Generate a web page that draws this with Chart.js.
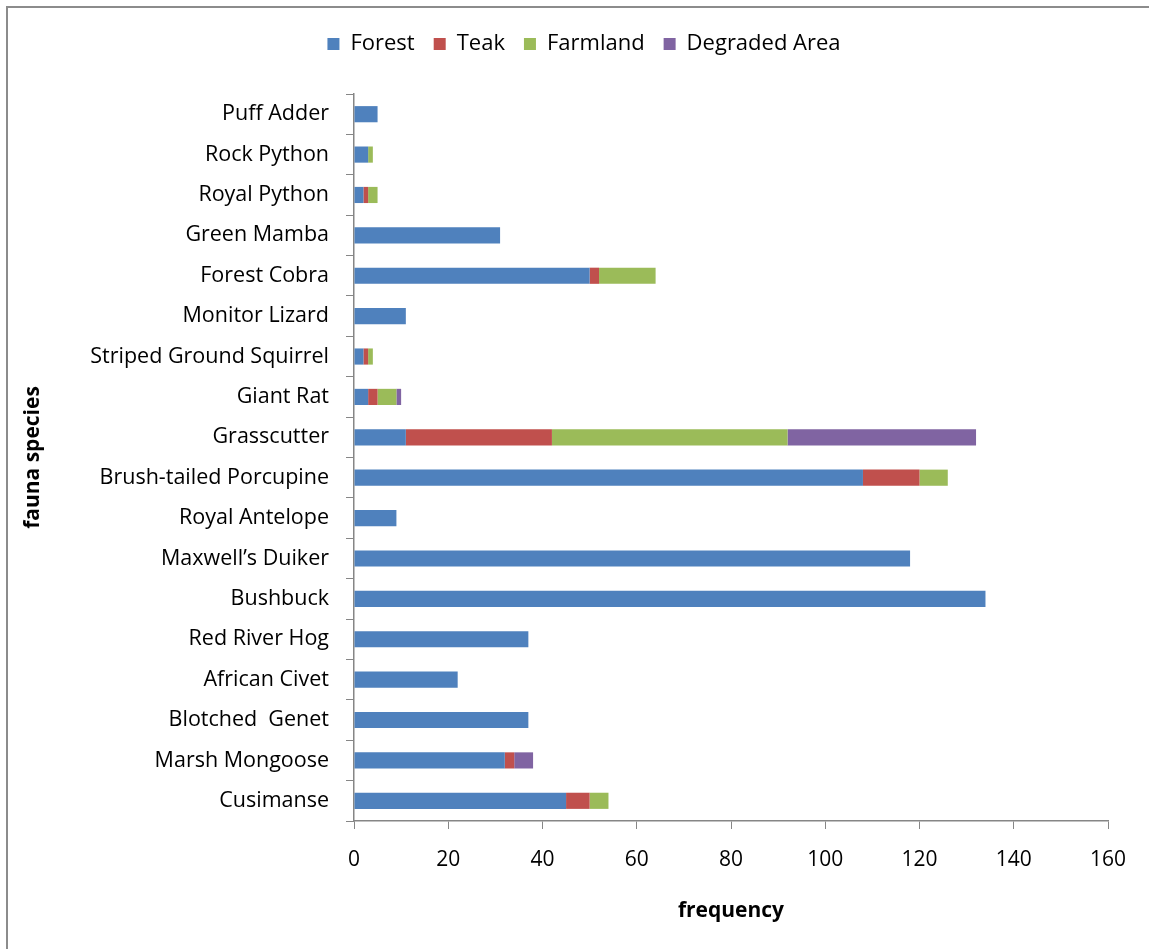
<!DOCTYPE html>
<html>
<head>
<meta charset="utf-8">
<script src="https://cdn.jsdelivr.net/npm/chart.js@4.4.1/dist/chart.umd.min.js"></script>
<style>
  body { margin: 0; background: #fff; }
  #wrap { position: relative; width: 1149px; height: 949px; }
</style>
</head>
<body>
<div id="wrap"><canvas id="chart" width="1149" height="949"></canvas></div>
<script>
  // species, top to bottom
  const species = [
    'Puff Adder', 'Rock Python', 'Royal Python', 'Green Mamba', 'Forest Cobra',
    'Monitor Lizard', 'Striped Ground Squirrel', 'Giant Rat', 'Grasscutter',
    'Brush-tailed Porcupine', 'Royal Antelope', 'Maxwell\u2019s Duiker', 'Bushbuck',
    'Red River Hog', 'African Civet', 'Blotched  Genet', 'Marsh Mongoose', 'Cusimanse'
  ]
  const forest = [5, 3, 2, 31, 50, 11, 2, 3, 11, 108, 9, 118, 134, 37, 22, 37, 32, 45]
  const teak = [0, 0, 1, 0, 2, 0, 1, 2, 31, 12, 0, 0, 0, 0, 0, 0, 2, 5]
  const farmland = [0, 1, 2, 0, 12, 0, 1, 4, 50, 6, 0, 0, 0, 0, 0, 0, 0, 4]
  const degraded = [0, 0, 0, 0, 0, 0, 0, 1, 40, 0, 0, 0, 0, 0, 0, 0, 4, 0]
  const xTicks = [0, 20, 40, 60, 80, 100, 120, 140, 160]

  const font = '"Open Sans", Lato, sans-serif'
  const axisGrey = '#868686'

  // outer frame like the exported figure
  const framePlugin = {
    id: 'frame',
    beforeDraw (chart) {
      const ctx = chart.ctx
      ctx.save()
      ctx.fillStyle = '#fff'
      ctx.fillRect(0, 0, chart.width, chart.height)
      ctx.strokeStyle = '#8c8c8c'
      ctx.lineWidth = 2
      ctx.strokeRect(7, 7, chart.width + 20, chart.height + 20)
      ctx.restore()
    }
  }

  // push the plot down below the legend, and nudge the legend right a bit
  const legendSpace = {
    id: 'legendSpace',
    beforeInit (chart) {
      const fit = chart.legend.fit
      chart.legend.fit = function () {
        fit.bind(chart.legend)()
        this.height = 80
      }
    },
    afterLayout (chart) {
      chart.legend.left += 22
      chart.legend.right += 22
    }
  }

  const makeSet = (label, data, color) => ({
    label: label,
    data: data,
    backgroundColor: color,
    borderWidth: 0,
    barPercentage: 0.4,
    categoryPercentage: 1.0
  })

  new Chart(document.getElementById('chart').getContext('2d'), {
    type: 'bar',
    data: {
      labels: species,
      datasets: [
        makeSet('Forest', forest, '#4f81bd'),
        makeSet('Teak', teak, '#c0504d'),
        makeSet('Farmland', farmland, '#9bbb59'),
        makeSet('Degraded Area', degraded, '#8064a2')
      ]
    },
    options: {
      indexAxis: 'y',
      responsive: false,
      animation: false,
      layout: { padding: { left: 16, right: 41, top: 14, bottom: 20 } },
      plugins: {
        legend: {
          position: 'top',
          labels: {
            boxWidth: 12,
            boxHeight: 12,
            padding: 19,
            color: '#000',
            font: { family: font, size: 22 }
          }
        },
        tooltip: { enabled: false }
      },
      scales: {
        x: {
          stacked: true,
          min: 0,
          max: 160,
          afterBuildTicks (scale) {
            scale.ticks = xTicks.map(v => ({ value: v }))
          },
          afterFit (scale) { scale.height = 108 },
          border: { color: axisGrey, width: 1.5 },
          grid: { drawOnChartArea: false, color: axisGrey, tickLength: 8 },
          ticks: { color: '#000', padding: 18, font: { family: font, size: 21 } },
          title: {
            display: true,
            text: 'frequency',
            color: '#000',
            padding: { top: 10, bottom: 5 },
            font: { family: font, size: 21, weight: 'bold' }
          }
        },
        y: {
          stacked: true,
          afterFit (scale) { scale.width = 338 },
          border: { color: axisGrey, width: 1.5 },
          grid: { drawOnChartArea: false, color: axisGrey, tickLength: 8, offset: true },
          ticks: { color: '#000', padding: 17, font: { family: font, size: 21.5 } },
          title: {
            display: true,
            text: 'fauna species',
            color: '#000',
            padding: { bottom: 0 },
            font: { family: font, size: 21, weight: 'bold' }
          }
        }
      }
    },
    plugins: [framePlugin, legendSpace]
  })
</script>
</body>
</html>
